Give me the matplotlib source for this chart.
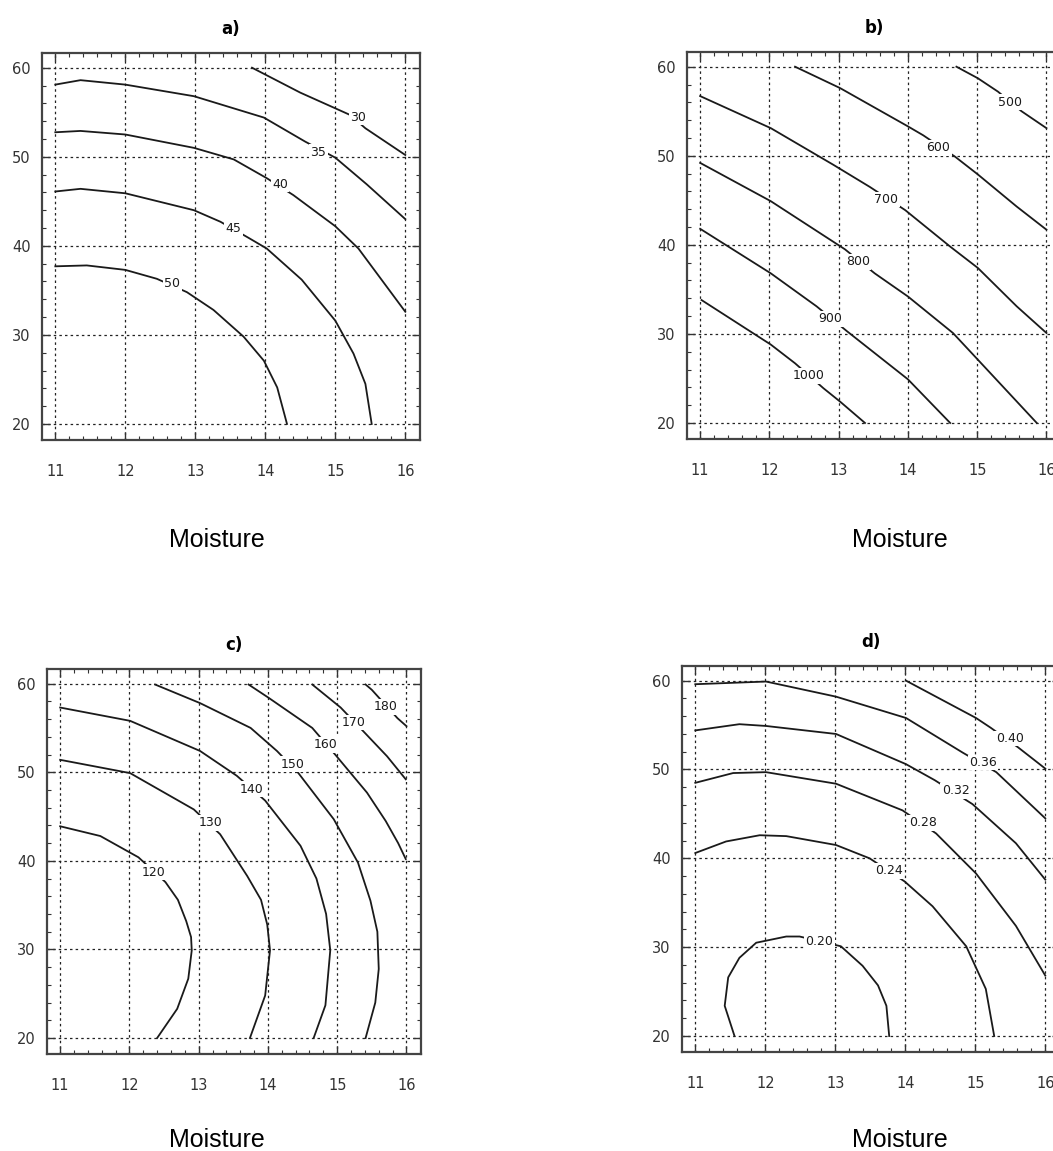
import numpy as np
import matplotlib.pyplot as plt
from matplotlib.ticker import MultipleLocator

W, H = 1053, 1151

# ---- panel a) contour lines (moisture, y) ----
a_levels = ["30", "35", "40", "45", "50"]
a_x = [
    [13.81, 14.5, 15.21, 15.43, 16.0],
    [11.0, 11.36, 12.0, 12.98, 13.98, 14.57, 15.0, 15.45, 16.0],
    [11.0, 11.36, 12.0, 12.98, 13.55, 14.02, 14.4, 15.0, 15.33, 16.0],
    [11.0, 11.36, 12.0, 12.98, 13.36, 13.76, 14.02, 14.52, 15.0, 15.26, 15.43, 15.52],
    [11.0, 11.45, 12.0, 12.45, 12.88, 13.26, 13.69, 13.98, 14.17, 14.31],
]
a_y = [
    [60.0, 57.2, 54.7, 53.2, 50.2],
    [58.1, 58.6, 58.1, 56.8, 54.4, 51.7, 49.9, 46.9, 43.0],
    [52.75, 52.9, 52.5, 51.0, 49.7, 47.6, 45.7, 42.2, 39.7, 32.6],
    [46.1, 46.4, 45.9, 44.0, 42.7, 40.9, 39.7, 36.2, 31.6, 27.9, 24.5, 20.0],
    [37.7, 37.8, 37.3, 36.3, 34.8, 32.8, 29.8, 27.1, 24.1, 20.0],
]
a_lab_x = [15.33, 14.76, 14.21, 13.55, 12.67]
a_lab_y = [54.4, 50.5, 46.9, 42.0, 35.8]

# ---- panel b) ----
b_levels = ["500", "600", "700", "800", "900", "1000"]
b_x = [
    [14.70, 15.01, 15.30, 15.64, 16.0],
    [12.37, 13.02, 14.0, 14.22, 14.68, 15.01, 15.57, 16.0],
    [11.0, 12.02, 12.92, 13.45, 13.96, 14.61, 15.01, 15.57, 16.0],
    [11.0, 12.02, 13.09, 13.52, 14.0, 14.65, 15.01, 15.86],
    [11.0, 12.02, 12.68, 13.12, 14.0, 14.61],
    [11.02, 12.02, 12.37, 12.78, 13.02, 13.38],
]
b_y = [
    [60.0, 58.7, 57.2, 55.0, 53.1],
    [60.0, 57.6, 53.3, 52.3, 49.9, 47.9, 44.3, 41.7],
    [56.7, 53.1, 49.0, 46.5, 43.9, 39.8, 37.4, 33.1, 30.1],
    [49.2, 44.9, 39.5, 36.8, 34.2, 30.1, 27.1, 20.0],
    [41.8, 36.8, 33.1, 30.3, 24.9, 20.0],
    [33.8, 28.8, 26.7, 23.9, 22.4, 20.0],
]
b_lab_x = [15.47, 14.44, 13.69, 13.28, 12.88, 12.56]
b_lab_y = [56.0, 50.9, 45.1, 38.1, 31.7, 25.3]

# ---- panel c) ----
c_levels = ["120", "130", "140", "150", "160", "170", "180"]
c_x = [
    [11.0, 11.58, 12.13, 12.52, 12.70, 12.82, 12.89, 12.90, 12.85, 12.69, 12.40],
    [11.0, 12.01, 12.93, 13.31, 13.70, 13.90, 13.99, 14.03, 13.96, 13.74],
    [11.0, 12.01, 13.02, 13.55, 13.96, 14.47, 14.70, 14.84, 14.90, 14.83, 14.66],
    [12.37, 13.02, 13.75, 14.13, 14.44, 14.95, 15.30, 15.48, 15.58, 15.60, 15.55, 15.41],
    [13.72, 14.01, 14.64, 14.97, 15.43, 15.70, 15.88, 15.99],
    [14.64, 15.05, 15.38, 15.72, 15.99],
    [15.41, 15.50, 15.87, 16.0],
]
c_y = [
    [43.9, 42.8, 40.4, 37.6, 35.6, 33.2, 31.4, 29.9, 26.7, 23.3, 20.0],
    [51.4, 49.9, 45.8, 43.0, 38.3, 35.6, 32.8, 29.9, 24.8, 20.0],
    [57.3, 55.8, 52.4, 49.6, 46.8, 41.7, 38.0, 34.0, 29.9, 23.7, 20.0],
    [59.9, 57.8, 55.0, 52.4, 49.9, 44.7, 39.8, 35.5, 32.0, 27.8, 24.0, 20.0],
    [59.9, 58.4, 55.0, 52.0, 47.7, 44.5, 42.0, 40.2],
    [59.9, 57.3, 54.6, 51.8, 49.2],
    [59.9, 59.3, 56.1, 55.2],
]
c_lab_x = [12.35, 13.17, 13.77, 14.35, 14.83, 15.24, 15.70]
c_lab_y = [38.7, 44.3, 48.1, 50.9, 53.1, 55.6, 57.4]

# ---- panel d) ----
d_levels = ["0.20", "0.24", "0.28", "0.32", "0.36", "0.40"]
d_x = [
    [11.56, 11.42, 11.47, 11.63, 11.87, 12.30, 12.49, 13.08, 13.39, 13.61, 13.73, 13.77],
    [11.0, 11.44, 11.92, 12.30, 13.01, 13.49, 13.99, 14.39, 14.87, 15.15, 15.27],
    [11.0, 11.54, 12.01, 13.01, 13.96, 14.44, 15.01, 15.58, 16.0],
    [11.0, 11.63, 12.01, 13.01, 14.01, 14.42, 14.96, 15.58, 16.0],
    [11.0, 12.01, 13.01, 14.01, 14.82, 15.30, 16.0],
    [14.01, 15.01, 15.22, 15.61, 16.0],
]
d_y = [
    [20.0, 23.4, 26.6, 28.8, 30.5, 31.2, 31.2, 30.1, 27.9, 25.7, 23.4, 20.0],
    [40.6, 41.9, 42.6, 42.5, 41.5, 40.0, 37.4, 34.6, 30.1, 25.3, 20.0],
    [48.5, 49.6, 49.7, 48.4, 45.4, 42.8, 38.3, 32.4, 26.8],
    [54.4, 55.1, 54.9, 54.0, 50.6, 48.8, 46.1, 41.7, 37.6],
    [59.6, 59.9, 58.2, 55.8, 51.9, 49.7, 44.5],
    [60.0, 55.8, 54.7, 52.5, 50.1],
]
d_lab_x = [12.77, 13.77, 14.25, 14.72, 15.11, 15.49]
d_lab_y = [30.6, 38.6, 44.0, 47.6, 50.8, 53.5]

x_ticks = [11, 12, 13, 14, 15, 16]
y_ticks = [20, 30, 40, 50, 60]

panels = [
    ("a)", (42, 53, 420, 440), a_levels, a_x, a_y, a_lab_x, a_lab_y, (217, 540)),
    ("b)", (687, 52, 1061, 439), b_levels, b_x, b_y, b_lab_x, b_lab_y, (900, 540)),
    ("c)", (47, 669, 421, 1054), c_levels, c_x, c_y, c_lab_x, c_lab_y, (217, 1140)),
    ("d)", (682, 666, 1060, 1052), d_levels, d_x, d_y, d_lab_x, d_lab_y, (900, 1140)),
]

fig = plt.figure(figsize=(W / 100, H / 100), dpi=100)

for title, (l, t, r, b), levels, xs, ys, lx, ly, mpos in panels:
    ax = fig.add_axes([l / W, 1 - b / H, (r - l) / W, (b - t) / H])
    ax.set_xlim(10.81, 16.21)
    ax.set_ylim(18.2, 61.65)
    ax.set_xticks(x_ticks)
    ax.set_yticks(y_ticks)
    ax.xaxis.set_minor_locator(MultipleLocator(0.2))
    ax.yaxis.set_minor_locator(MultipleLocator(2))
    ax.tick_params(which="both", direction="in", top=True, right=True,
                   color="#333333")
    ax.tick_params(which="major", length=6, width=1.0)
    ax.tick_params(which="minor", length=3, width=0.8)
    ax.tick_params(axis="x", pad=17, labelsize=10.5, labelcolor="#333333")
    ax.tick_params(axis="y", pad=8, labelsize=10.5, labelcolor="#333333")
    ax.grid(True, which="major", color="#222222", linestyle=(0, (2, 2.5)),
            linewidth=0.9)
    for s in ax.spines.values():
        s.set_linewidth(1.6)
        s.set_color("#444444")
    ax.set_title(title, fontsize=12, fontweight="bold", pad=14)

    for xv, yv in zip(xs, ys):
        ax.plot(xv, yv, color="#1a1a1a", linewidth=1.3, zorder=3)
    for txt, x0, y0 in zip(levels, lx, ly):
        ax.text(x0, y0, txt, fontsize=9, ha="center", va="center",
                color="#1a1a1a", zorder=4,
                bbox=dict(facecolor="white", edgecolor="none", pad=1.0))

    fig.text(mpos[0] / W, 1 - mpos[1] / H, "Moisture", fontsize=18,
             family="Liberation Sans", ha="center", va="center")

fig.savefig("out.png", dpi=100)
